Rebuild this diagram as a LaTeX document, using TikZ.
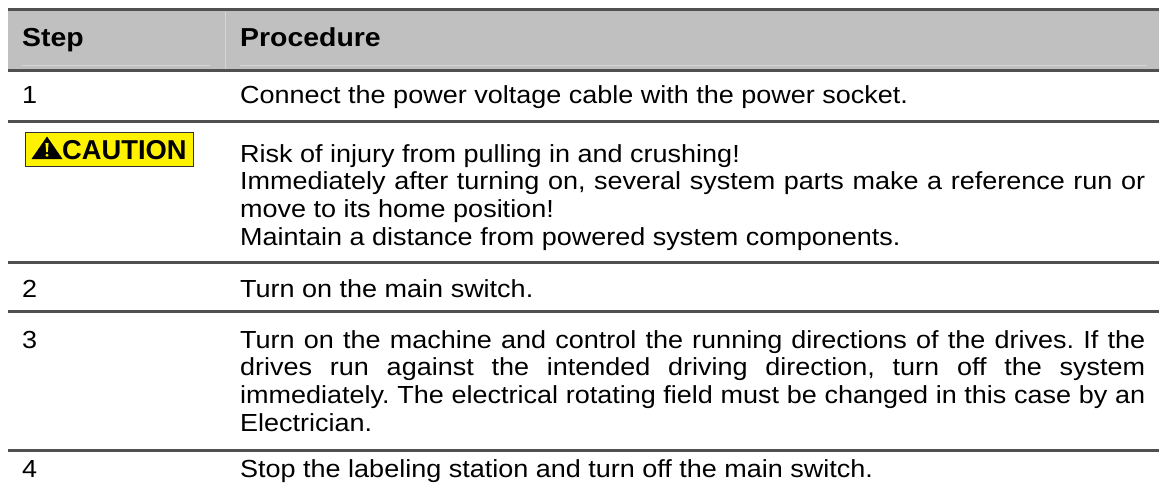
\documentclass[tikz,border=0pt]{standalone}
\usepackage{fontspec}
\setmainfont[FakeStretch=1.093]{Liberation Sans}
\newfontfamily\plainsans{Liberation Sans}
\definecolor{rule}{HTML}{505050}
\definecolor{hdr}{HTML}{C0C0C0}
\definecolor{hdrline}{HTML}{D6D6D6}
\definecolor{cautionyellow}{HTML}{FFF200}
\tikzset{
  hline/.style={draw=rule, line width=3pt},
  cell/.style={anchor=base west, inner sep=0pt, font=\fontsize{24.7}{27.8}\selectfont},
  headcell/.style={anchor=base west, inner sep=0pt, font=\fontsize{26}{30}\selectfont\bfseries},
}
\newcommand{\para}[1]{\parbox[t]{905pt}{\frenchspacing\hyphenpenalty=10000\exhyphenpenalty=10000\fontsize{24.7}{27.8}\selectfont #1}}
\begin{document}
\begin{tikzpicture}[x=1pt,y=-1pt]
\useasboundingbox (0,0) rectangle (1159,495);
% header
\fill[hdr] (8,10) rectangle (1159,71);
\draw[hdrline, line width=1pt] (225,12) -- (225,70);
\draw[hdrline, line width=1pt] (22,66) -- (210,66);
\draw[hdrline, line width=1pt] (240,66) -- (1147,66);
\coordinate (l0a) at (8,10);   \coordinate (l0b) at (1159,10);
\coordinate (l1a) at (8,71);   \coordinate (l1b) at (1159,71);
\coordinate (l2a) at (8,121);  \coordinate (l2b) at (1159,121);
\coordinate (l3a) at (8,262);  \coordinate (l3b) at (1159,262);
\coordinate (l4a) at (8,311);  \coordinate (l4b) at (1159,311);
\coordinate (l5a) at (8,450);  \coordinate (l5b) at (1159,450);
\draw[hline] (l0a) -- (l0b);
\draw[hline] (l1a) -- (l1b);
\draw[hline] (l2a) -- (l2b);
\draw[hline] (l3a) -- (l3b);
\draw[hline] (l4a) -- (l4b);
\draw[hline] (l5a) -- (l5b);
\node[headcell] (hstep) at (22,47) {Step};
\node[headcell] (hproc) at (240,47) {Procedure};
% row 1
\node[cell] (s1) at (22,103) {1};
\node[cell] (p1) at (240,103) {\frenchspacing Connect the power voltage cable with the power socket.};
% caution
\node[draw=black!80, line width=1.2pt, fill=cautionyellow, minimum width=168pt, minimum height=34pt, inner sep=0pt, anchor=north west] (caution) at (25,132) {};
\fill[black] (31.5,159) -- (47,136.5) -- (62.5,159) -- cycle;
\fill[cautionyellow] (45.4,143) -- (48.6,143) -- (47.8,152) -- (46.2,152) -- cycle;
\fill[cautionyellow] (47,155.2) circle (1.7pt);
\node[anchor=base west, inner sep=0pt, font=\plainsans\fontsize{27.3}{28}\selectfont\bfseries] (ctext) at (62,159) {CAUTION};
\node[cell] (pc) at (240,162) {\para{Risk of injury from pulling in and crushing!\\
Immediately after turning on, several system parts make a reference run or\linebreak move to its home position!\\
Maintain a distance from powered system components.}};
% row 2
\node[cell] (s2) at (22,297) {2};
\node[cell] (p2) at (240,297) {Turn on the main switch.};
% row 3
\node[cell] (s3) at (22,348) {3};
\node[cell] (p3) at (240,348) {\para{Turn on the machine and control the running directions of the drives. If the\linebreak drives run against the intended driving direction, turn off the system\linebreak immediately. The electrical rotating field must be changed in this case by an\linebreak Electrician.}};
% row 4
\node[cell] (s4) at (22,477) {4};
\node[cell] (p4) at (240,477) {\frenchspacing Stop the labeling station and turn off the main switch.};
\end{tikzpicture}
\end{document}
